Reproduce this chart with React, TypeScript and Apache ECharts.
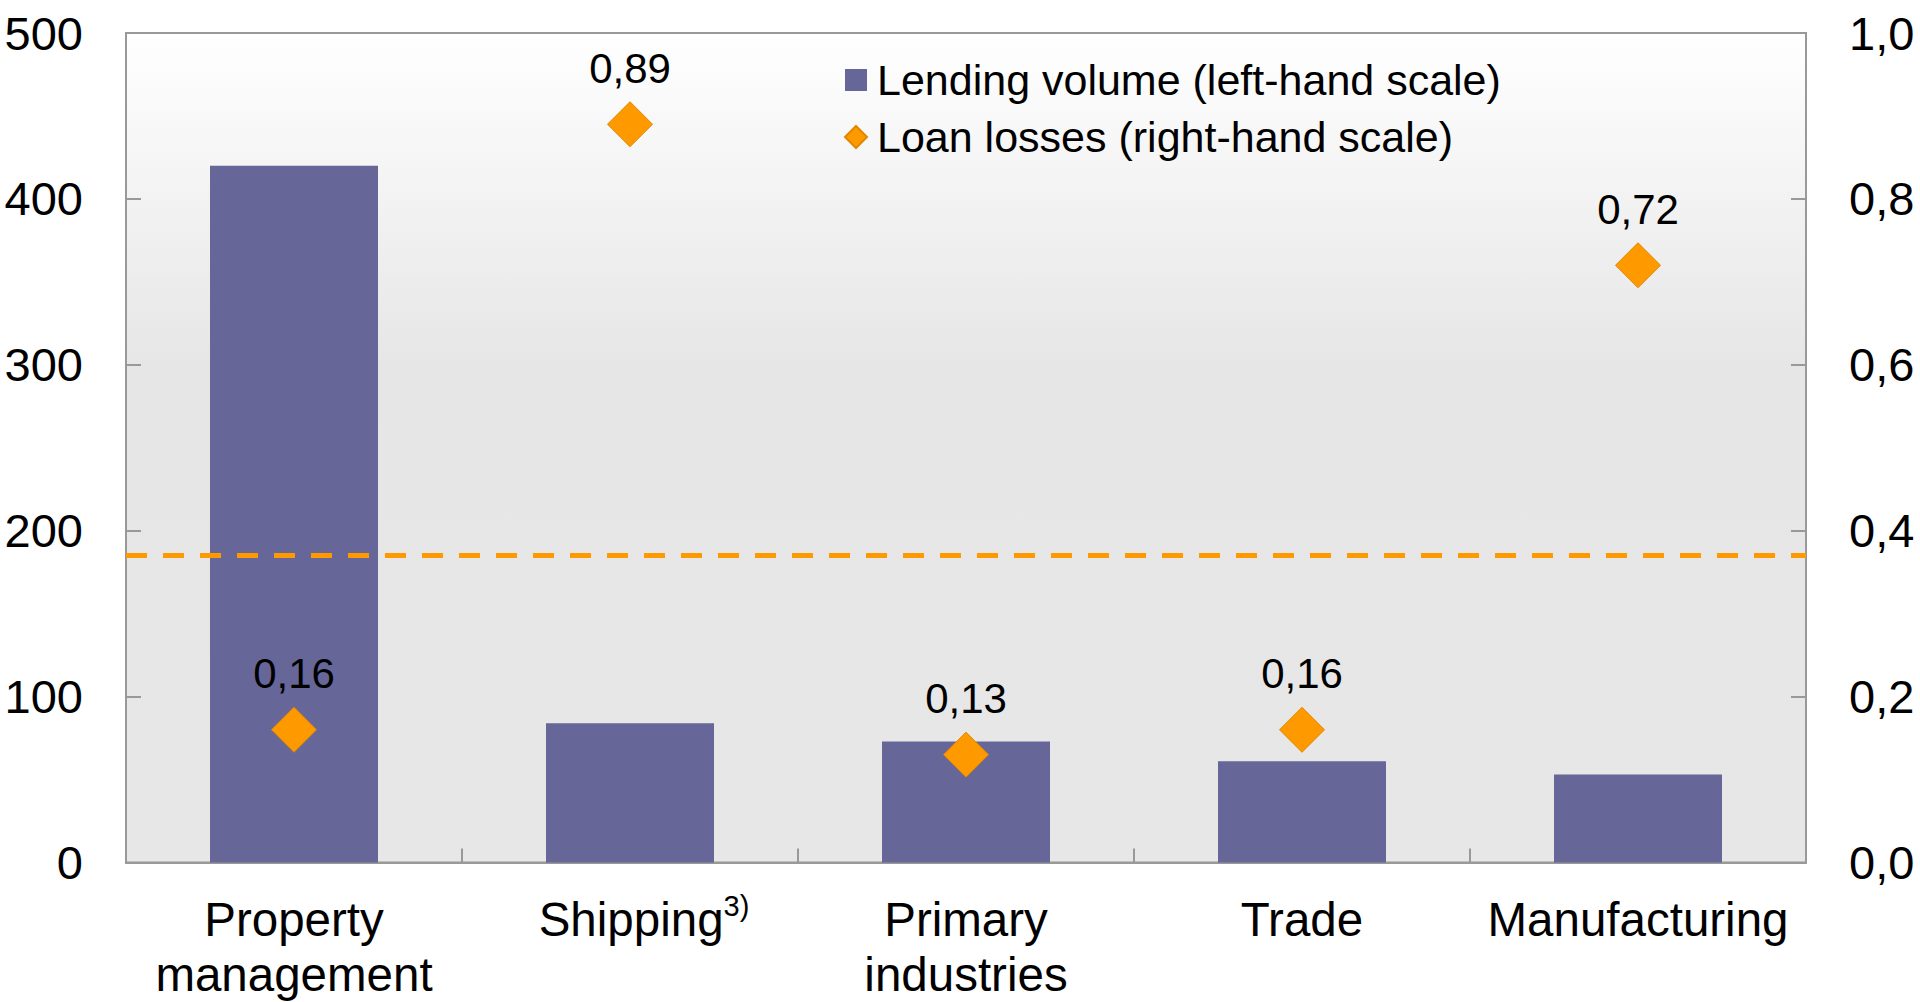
import React, { useEffect, useRef } from "react";
import * as echarts from "echarts";

const categories = ["Property\nmanagement", "Shipping", "Primary\nindustries", "Trade", "Manufacturing"];
const lendingVolume = [420, 84, 73, 61, 53];
const loanLosses = [0.16, 0.89, 0.13, 0.16, 0.72];
const averageLoss = 0.37;
const leftTicks = { min: 0, max: 500, interval: 100 };
const rightTicks = { min: 0, max: 1, interval: 0.2 };
const seriesNames = ["Lending volume (left-hand scale)", "Loan losses (right-hand scale)"];

const FONT = "'Liberation Sans', Arial, sans-serif";

export default function App() {
  const ref = useRef<HTMLDivElement>(null);
  useEffect(() => {
    if (!ref.current) return;
    const chart = echarts.init(ref.current, null, { renderer: "svg" });
    chart.setOption({
      animation: false,
      textStyle: { fontFamily: FONT, color: "#000" },
      legend: {
        orient: "vertical",
        left: 839,
        top: 51,
        itemWidth: 22,
        itemHeight: 22,
        itemGap: 9,
        textStyle: { fontSize: 43, lineHeight: 48, color: "#000", fontFamily: FONT, padding: [0, 0, 0, 5] },
        data: [
          { name: seriesNames[0], icon: "rect" },
          { name: seriesNames[1], icon: "diamond" },
        ],
      },
      grid: {
        left: 126,
        right: 114,
        top: 33,
        bottom: 139.5,
        show: true,
        borderColor: "#999",
        borderWidth: 2,
        backgroundColor: new echarts.graphic.LinearGradient(0, 0, 0, 1, [
          { offset: 0, color: "#ffffff" },
          { offset: 0.4, color: "#e6e6e6" },
          { offset: 1, color: "#e7e7e7" },
        ]),
      },
      xAxis: {
        type: "category",
        data: categories,
        boundaryGap: true,
        axisLine: { show: true, lineStyle: { color: "#999", width: 2 } },
        axisTick: { show: true, inside: true, length: 14, lineStyle: { color: "#999", width: 2 } },
        axisLabel: {
          fontSize: 47.5,
          lineHeight: 55,
          margin: 29,
          color: "#000",
          fontFamily: FONT,
          interval: 0,
          formatter: (v: string) => (v === "Shipping" ? "{pad| }Shipping{sup|3)}" : v),
          rich: {
            pad: { width: 28, fontSize: 47.5, lineHeight: 55 },
            sup: { fontSize: 29, lineHeight: 1, verticalAlign: "top", color: "#000", fontFamily: FONT },
          },
        },
      },
      yAxis: [
        {
          type: "value",
          ...leftTicks,
          position: "left",
          splitLine: { show: false },
          axisLine: { show: true, lineStyle: { color: "#999", width: 2 } },
          axisTick: { show: true, inside: true, length: 15, lineStyle: { color: "#999", width: 2 } },
          axisLabel: { fontSize: 47, margin: 43, color: "#000", fontFamily: FONT },
        },
        {
          type: "value",
          ...rightTicks,
          position: "right",
          splitLine: { show: false },
          axisLine: { show: true, lineStyle: { color: "#999", width: 2 } },
          axisTick: { show: true, inside: true, length: 15, lineStyle: { color: "#999", width: 2 } },
          axisLabel: {
            fontSize: 47,
            margin: 43,
            color: "#000",
            fontFamily: FONT,
            formatter: (v: number) => v.toFixed(1).replace(".", ","),
          },
        },
      ],
      series: [
        {
          name: seriesNames[0],
          type: "bar",
          data: lendingVolume,
          barWidth: "50%",
          yAxisIndex: 0,
          itemStyle: { color: "#666699" },
        },
        {
          name: seriesNames[1],
          type: "scatter",
          data: loanLosses,
          yAxisIndex: 1,
          symbol: "diamond",
          symbolSize: 45,
          itemStyle: { color: "#FF9900", borderColor: "#E08700", borderWidth: 1, opacity: 1 },
          label: {
            show: true,
            position: "top",
            distance: 12,
            fontSize: 42,
            lineHeight: 42,
            color: "#000",
            fontFamily: FONT,
            formatter: (p: any) => Number(p.value).toFixed(2).replace(".", ","),
          },
          markLine: {
            silent: true,
            symbol: "none",
            label: { show: false },
            lineStyle: { color: "#FF9900", width: 5, type: [21, 16], opacity: 1 },
            data: [{ yAxis: averageLoss }],
          },
          z: 5,
        },
      ],
    });
    return () => chart.dispose();
  }, []);
  return <div ref={ref} style={{ width: 1920, height: 1002, position: "absolute", left: 0, top: 0 }} />;
}
